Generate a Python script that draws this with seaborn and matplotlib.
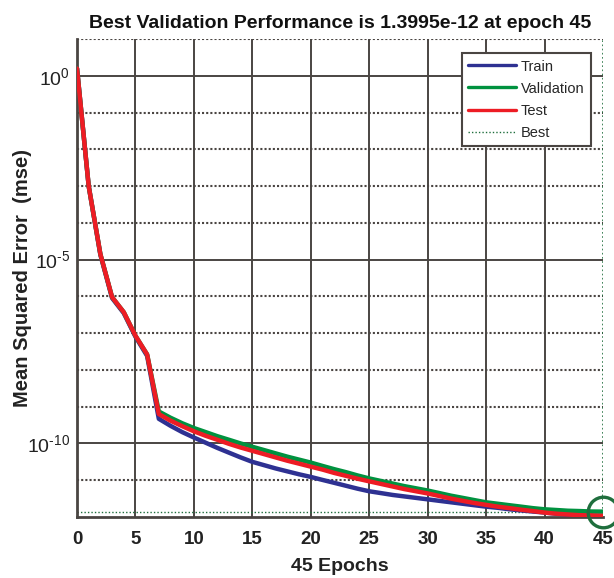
import numpy as np
import pandas as pd
import matplotlib
matplotlib.use("Agg")
import matplotlib.pyplot as plt
from matplotlib.lines import Line2D
import seaborn as sns

# ---------------- data ----------------
epochs = list(range(0, 46))
train = [1.58, 1.0e-3, 1.35e-5, 9.0e-7, 3.5e-7, 8.0e-8, 2.4e-8,
         4.68e-10, 3.02e-10, 2.04e-10, 1.45e-10, 1.05e-10, 7.59e-11, 5.62e-11, 4.17e-11,
         3.16e-11, 2.57e-11, 2.09e-11, 1.74e-11, 1.45e-11, 1.23e-11, 1.02e-11, 8.51e-12,
         7.08e-12, 5.89e-12, 5.01e-12, 4.47e-12, 3.98e-12, 3.63e-12, 3.31e-12, 3.02e-12,
         2.75e-12, 2.51e-12, 2.29e-12, 2.09e-12, 1.91e-12, 1.78e-12, 1.62e-12, 1.51e-12,
         1.41e-12, 1.32e-12, 1.23e-12, 1.17e-12, 1.12e-12, 1.10e-12, 1.07e-12]
validation = [1.58, 1.0e-3, 1.41e-5, 9.55e-7, 3.72e-7, 8.51e-8, 2.63e-8,
              7.41e-10, 5.01e-10, 3.55e-10, 2.63e-10, 2.04e-10, 1.58e-10, 1.26e-10, 1.0e-10,
              8.13e-11, 6.61e-11, 5.37e-11, 4.37e-11, 3.63e-11, 3.02e-11, 2.45e-11, 2.0e-11,
              1.66e-11, 1.35e-11, 1.12e-11, 9.55e-12, 8.13e-12, 6.92e-12, 6.03e-12, 5.25e-12,
              4.47e-12, 3.80e-12, 3.31e-12, 2.88e-12, 2.51e-12, 2.29e-12, 2.09e-12, 1.91e-12,
              1.74e-12, 1.62e-12, 1.55e-12, 1.48e-12, 1.45e-12, 1.41e-12, 1.3995e-12]
test = [1.58, 1.0e-3, 1.41e-5, 9.55e-7, 3.72e-7, 8.51e-8, 2.63e-8,
        6.31e-10, 4.17e-10, 2.95e-10, 2.14e-10, 1.62e-10, 1.26e-10, 9.77e-11, 7.76e-11,
        6.31e-11, 5.13e-11, 4.17e-11, 3.39e-11, 2.82e-11, 2.34e-11, 1.95e-11, 1.58e-11,
        1.32e-11, 1.10e-11, 9.33e-12, 7.94e-12, 6.76e-12, 5.75e-12, 5.01e-12, 4.37e-12,
        3.72e-12, 3.16e-12, 2.75e-12, 2.40e-12, 2.14e-12, 1.91e-12, 1.74e-12, 1.58e-12,
        1.45e-12, 1.32e-12, 1.23e-12, 1.17e-12, 1.12e-12, 1.10e-12, 1.07e-12]
best_epoch = 45
best_value = 1.3995e-12
series_names = ["Train", "Validation", "Test"]
colors = {"Train": "#2e3192", "Validation": "#00923f", "Test": "#ed1c24"}
best_color = "#1f6e3d"
grid_color = "#4a4542"
x_ticks = [0, 5, 10, 15, 20, 25, 30, 35, 40, 45]
y_major = [1e0, 1e-5, 1e-10]
y_major_labels = ["$10^{0}$", "$10^{\u20105}$", "$10^{\u201010}$"]

df = pd.DataFrame({
    "epoch": epochs * 3,
    "mse": train + validation + test,
    "series": ["Train"] * 46 + ["Validation"] * 46 + ["Test"] * 46,
})

# ---------------- figure ----------------
sns.set_style("white")
plt.rcParams["font.family"] = ["Liberation Sans", "DejaVu Sans"]
plt.rcParams["mathtext.fontset"] = "custom"
plt.rcParams["mathtext.rm"] = "Liberation Sans"
plt.rcParams["mathtext.it"] = "Liberation Sans"
plt.rcParams["mathtext.default"] = "regular"

fig = plt.figure(figsize=(6.14, 5.78), dpi=100)
ax = fig.add_axes([77 / 614, 1 - 517 / 578, (603 - 77) / 614, (517 - 39) / 578])
ax.set_yscale("log")
ax.set_xlim(0, 45)
ax.set_ylim(1e-12, 1e1)

# grid
for xv in x_ticks[1:-1]:
    ax.axvline(xv, color=grid_color, lw=1.4, zorder=1)
for k in range(-11, 2):
    yv = 10.0 ** k
    if k in (0, -5, -10):
        ax.axhline(yv, color=grid_color, lw=1.4, zorder=1)
    else:
        ax.axhline(yv, color=grid_color, lw=1.5, ls=(0, (1, 1)), zorder=1)

sns.lineplot(data=df, x="epoch", y="mse", hue="series", hue_order=series_names,
             palette=colors, linewidth=3.2, legend=False, ax=ax, zorder=3)

# best lines
ax.axhline(best_value, color=best_color, lw=1.0, ls=(0, (1, 1.5)), zorder=2)
ax.axvline(best_epoch, color=best_color, lw=1.2, ls=(0, (1, 1.5)), zorder=2)
ax.plot([best_epoch], [best_value], marker="o", ms=22, mfc="none", mec=best_color,
        mew=2.4, clip_on=False, zorder=5)

# spines
for s in ["top", "right"]:
    ax.spines[s].set_visible(False)
for s in ["left", "bottom"]:
    ax.spines[s].set_color(grid_color)
    ax.spines[s].set_linewidth(2.0)

ax.set_xticks(x_ticks)
ax.set_xticklabels([str(v) for v in x_ticks], fontsize=13.5, fontweight="bold", color="#222222")
ax.set_yticks(y_major)
ax.set_yticklabels(y_major_labels, fontsize=14, color="#222222")
ax.minorticks_off()
ax.tick_params(axis="x", length=0, pad=10)
ax.tick_params(axis="y", length=0, pad=5)

ax.set_xlabel("45 Epochs", fontsize=14, fontweight="bold", color="#222222", labelpad=7)
ax.set_ylabel("Mean Squared Error  (mse)", fontsize=14.5, fontweight="bold", color="#222222")
ax.yaxis.set_label_coords(-0.0856, 0.5)
ax.set_title("Best Validation Performance is 1.3995e-12 at epoch 45", fontsize=14,
             fontweight="bold", color="#111111", pad=8)

handles = [Line2D([], [], color=colors[n], lw=2.4) for n in series_names]
handles.append(Line2D([], [], color=best_color, lw=1.0, ls=(0, (1, 1.5))))
leg = ax.legend(handles, series_names + ["Best"], loc="upper right",
                bbox_to_anchor=(591 / 614, 1 - 53 / 578), bbox_transform=fig.transFigure,
                fontsize=10.5, frameon=True, fancybox=False, handlelength=3.3,
                handletextpad=0.3, labelspacing=0.55, borderpad=0.45, borderaxespad=0)
leg.get_frame().set_edgecolor(grid_color)
leg.get_frame().set_linewidth(1.5)
leg.get_frame().set_facecolor("white")
leg.get_frame().set_alpha(1)
leg.set_zorder(10)

fig.savefig("out.png", dpi=100)
